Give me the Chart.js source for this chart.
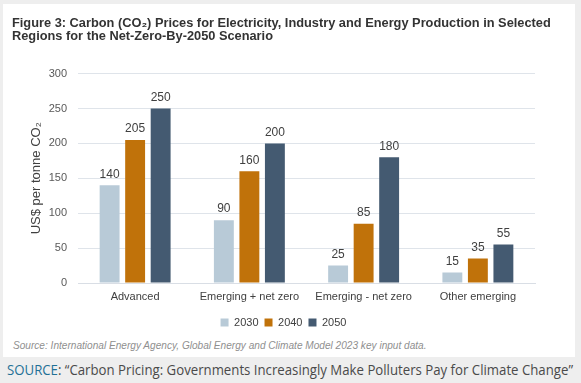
<!DOCTYPE html>
<html>
<head>
<meta charset="utf-8">
<script src="https://cdn.jsdelivr.net/npm/chart.js@4.4.1/dist/chart.umd.min.js"></script>
<style>
  html, body { margin: 0; padding: 0; }
  body { width: 581px; height: 383px; background: #eeeeee; position: relative; overflow: hidden; }
  #panel { position: absolute; left: 3px; top: 4px; width: 572px; height: 353px; background: #ffffff; }
  #chart { position: absolute; left: 0; top: 0; }
  #note { position: absolute; left: 10px; top: 336px; font: italic 10.1px "Liberation Sans", Arial, sans-serif; color: #8f8f8f; white-space: nowrap; }
  #caption { position: absolute; left: 7px; top: 360px; font: 14px "Open Sans", sans-serif; color: #4a4a4a; white-space: nowrap; transform-origin: 0 0; }
  #caption .src { color: #1f7196; }
</style>
</head>
<body>
<div id="panel">
  <canvas id="chart" width="572" height="334"></canvas>
  <div id="note">Source: International Energy Agency, Global Energy and Climate Model 2023 key input data.</div>
</div>
<div id="caption"><span class="src">SOURCE</span>: “Carbon Pricing: Governments Increasingly Make Polluters Pay for Climate Change”</div>
<script>
const titleLines = [
  "Figure 3: Carbon (CO₂) Prices for Electricity, Industry and Energy Production in Selected",
  "Regions for the Net-Zero-By-2050 Scenario"
];
const categories = ["Advanced", "Emerging + net zero", "Emerging - net zero", "Other emerging"];
const seriesNames = ["2030", "2040", "2050"];
const values2030 = [140, 90, 25, 15];
const values2040 = [205, 160, 85, 35];
const values2050 = [250, 200, 180, 55];
const yTicks = [0, 50, 100, 150, 200, 250, 300];
const yTitle = "US$ per tonne CO₂";

const colors = ["#b8cad7", "#c0720a", "#445a71"];
const seriesValues = [values2030, values2040, values2050];
const FONT = '"Liberation Sans", Arial, sans-serif';

const valueLabels = {
  id: "valueLabels",
  afterDatasetsDraw(chart) {
    const ctx = chart.ctx;
    ctx.save();
    ctx.font = '12px ' + FONT;
    ctx.fillStyle = "#404040";
    ctx.textAlign = "center";
    ctx.textBaseline = "bottom";
    chart.data.datasets.forEach((ds, i) => {
      chart.getDatasetMeta(i).data.forEach((bar, j) => {
        ctx.fillText(String(ds.data[j]), bar.x, bar.y - 5);
      });
    });
    ctx.restore();
  }
};

new Chart(document.getElementById("chart"), {
  type: "bar",
  data: {
    labels: categories,
    datasets: seriesNames.map((name, i) => ({
      label: name,
      data: seriesValues[i],
      backgroundColor: colors[i],
      borderWidth: 0,
      barPercentage: 0.78,
      categoryPercentage: 0.67
    }))
  },
  options: {
    responsive: false,
    animation: false,
    layout: { padding: { left: 9, right: 20, top: 0, bottom: 0 } },
    plugins: {
      title: {
        display: true,
        text: titleLines,
        align: "start",
        color: "#333333",
        font: { family: FONT, size: 12.8, weight: "bold", lineHeight: 1.0 },
        padding: { top: 13, bottom: 31 }
      },
      legend: {
        position: "bottom",
        labels: {
          boxWidth: 8,
          boxHeight: 8,
          padding: 6,
          color: "#404040",
          font: { family: FONT, size: 11 }
        }
      },
      tooltip: { enabled: false }
    },
    scales: {
      x: {
        grid: { display: false, drawTicks: false },
        border: { display: true, color: "#d9dee5" },
        afterFit(scale) { scale.height = 28; },
        ticks: { color: "#404040", padding: 7, font: { family: FONT, size: 11 } }
      },
      y: {
        min: 0,
        max: 300,
        afterBuildTicks(scale) { scale.ticks = yTicks.map(v => ({ value: v })); },
        afterFit(scale) { scale.width = 66; },
        grid: { color: "#dfe4ea", drawTicks: false },
        border: { display: false },
        ticks: { color: "#595959", padding: 11, font: { family: FONT, size: 11 } },
        title: {
          display: true,
          text: yTitle,
          color: "#404040",
          padding: { top: 17, bottom: 0 },
          font: { family: FONT, size: 13 }
        }
      },
      spacer: {
        position: "right",
        min: 0,
        max: 300,
        afterFit(scale) { scale.width = 20; },
        grid: { display: false, drawTicks: false },
        border: { display: false },
        ticks: { display: false }
      }
    }
  },
  plugins: [valueLabels]
});

// fit caption to measured width of the reference
const cap = document.getElementById("caption");
const w = cap.getBoundingClientRect().width;
cap.style.transform = "scaleX(" + (566 / w) + ")";
</script>
</body>
</html>
